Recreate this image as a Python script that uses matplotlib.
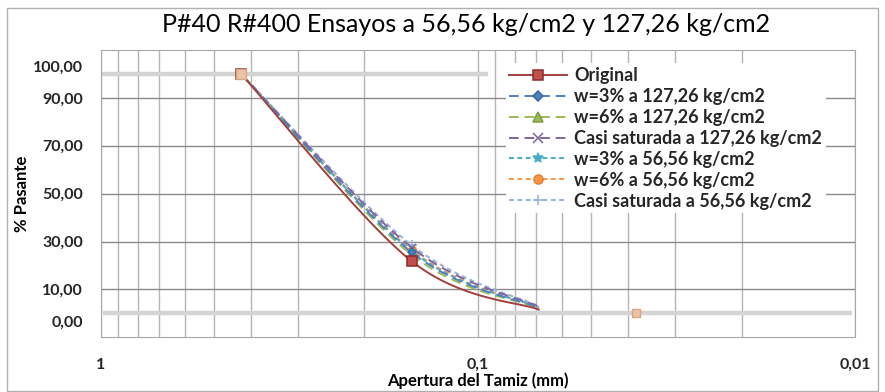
import matplotlib
matplotlib.use("Agg")
import matplotlib.pyplot as plt
import numpy as np
from matplotlib.ticker import NullFormatter

plt.rcParams['font.family'] = ['Lato', 'DejaVu Sans']

# tamices (mm) y % pasante por serie
sizes = [0.425, 0.15, 0.069]
original = [100.0, 21.8, 1.6]
w3_127 = [100.0, 25.5, 2.4]
w6_127 = [100.0, 24.5, 2.2]
casi_127 = [100.0, 27.5, 2.8]
w3_56 = [100.0, 26.0, 2.5]
w6_56 = [100.0, 26.5, 2.4]
casi_56 = [100.0, 28.5, 3.0]

# punto suelto cerca de #400
extra_x = [0.038]
extra_y = [0.0]

# barras grises horizontales
bar_y = [100.0, 0.0]
bar_x0 = [1.0, 0.985]
bar_x1 = [0.094, 0.0102]

series = [
    ("Original", original, '#A3403D', '-', 's', '#C0504D', '#8E2B29', 6.5),
    ("w=3% a 127,26 kg/cm2", w3_127, '#4F81BD', (0, (5, 3)), 'D', '#4F81BD', '#3A6AA4', 4.5),
    ("w=6% a 127,26 kg/cm2", w6_127, '#9BBB59', (0, (5, 3)), '^', '#9BBB59', '#7E9C40', 5.5),
    ("Casi saturada a 127,26 kg/cm2", casi_127, '#8064A2', (0, (5, 3)), 'x', '#8064A2', '#8064A2', 5.5),
    ("w=3% a 56,56 kg/cm2", w3_56, '#4BACC6', (0, (2.5, 1.8)), '*', '#4BACC6', '#4BACC6', 6.5),
    ("w=6% a 56,56 kg/cm2", w6_56, '#F79646', (0, (2.5, 1.8)), 'o', '#F79646', '#E07F30', 5.5),
    ("Casi saturada a 56,56 kg/cm2", casi_56, '#95B3D7', (0, (2.5, 1.8)), '+', '#95B3D7', '#95B3D7', 6.5),
]


def smooth(xs, ys, n=40):
    # curva suavizada tipo Excel (Catmull-Rom en log x)
    lx = np.log10(xs)
    p = np.column_stack([lx, ys])
    p = np.vstack([p[0], p, p[-1]])
    out = []
    t = np.linspace(0, 1, n)
    for i in range(1, len(p) - 2):
        p0, p1, p2, p3 = p[i - 1], p[i], p[i + 1], p[i + 2]
        seg = 0.5 * ((2 * p1)[None, :] + (-p0 + p2)[None, :] * t[:, None]
                     + (2 * p0 - 5 * p1 + 4 * p2 - p3)[None, :] * (t ** 2)[:, None]
                     + (-p0 + 3 * p1 - 3 * p2 + p3)[None, :] * (t ** 3)[:, None])
        out.append(seg)
    out = np.vstack(out)
    return 10 ** out[:, 0], out[:, 1]


fig = plt.figure(figsize=(8.85, 3.92), dpi=100)
ax = fig.add_axes([0.1141, 0.1395, 0.852, 0.733])

for y, a, b in zip(bar_y, bar_x0, bar_x1):
    ax.plot([a, b], [y, y], color='#d4d4d4', lw=3.2, solid_capstyle='butt', zorder=2)

for name, vals, lc, ls, mk, mfc, mec, ms in reversed(series):
    sx, sy = smooth(sizes, vals)
    ax.plot(sx, sy, color=lc, ls=ls, lw=1.4, zorder=3)
ax.plot(extra_x, extra_y, ls='none', marker='s', ms=5.5, mfc='#EBC3A5', mec='#D9A47E', zorder=4)

for name, vals, lc, ls, mk, mfc, mec, ms in reversed(series):
    ax.plot(sizes[:2], vals[:2], ls='none', marker=mk, ms=ms, mfc=mfc, mec=mec, mew=1.1, zorder=4)
# el primer punto se ve color durazno en el original
ax.plot(sizes[:1], original[:1], ls='none', marker='s', ms=7, mfc='#EBC3A5', mec='#D9A47E', zorder=5)

handles = []
for name, vals, lc, ls, mk, mfc, mec, ms in series:
    h, = ax.plot([], [], color=lc, ls=ls, lw=1.4, marker=mk, ms=ms + 1, mfc=mfc, mec=mec,
                 mew=1.1, label=name)
    handles.append(h)

ax.set_xscale('log')
ax.set_xlim(1, 0.01)
ax.set_ylim(-10, 110)
ax.set_xticks([1, 0.1, 0.01], labels=['1', '0,1', '0,01'])
ax.xaxis.set_minor_formatter(NullFormatter())
ax.set_yticks([10, 30, 50, 70, 90], labels=['10,00', '30,00', '50,00', '70,00', '90,00'])
ax.set_yticks([-3.3, 103.3], labels=['0,00', '100,00'], minor=True)

ax.grid(True, axis='y', which='major', color='#8a8a8a', lw=1.0)
ax.grid(True, axis='x', which='both', color='#b5b5b5', lw=1.0)
ax.set_axisbelow(True)
ax.tick_params(axis='both', which='both', length=0)
ax.tick_params(axis='x', which='both', pad=15, labelsize=11.5)
ax.tick_params(axis='y', which='both', pad=13, labelsize=11.5)
for lab in ax.get_xticklabels() + ax.get_yticklabels() + ax.get_yticklabels(minor=True):
    lab.set_fontweight('bold')
    lab.set_color('#262626')
for s in ax.spines.values():
    s.set_color('#a8a8a8')

ax.set_xlabel('Apertura del Tamiz (mm)', fontsize=12, fontweight='bold', labelpad=0)
ax.set_ylabel('% Pasante', fontsize=12, fontweight='bold', labelpad=2)
fig.text(0.527, 0.938, 'P#40 R#400 Ensayos a 56,56 kg/cm2 y 127,26 kg/cm2',
         ha='center', va='center', fontsize=18)

leg = ax.legend(handles=handles, loc='upper left', bbox_to_anchor=(0.525, 0.985),
                frameon=True, fontsize=13, handlelength=3.2, labelspacing=0.22,
                handletextpad=0.4, borderpad=0.2)
leg.get_frame().set_edgecolor('none')
leg.get_frame().set_facecolor('white')
leg.get_frame().set_alpha(1)
for t in leg.get_texts():
    t.set_fontweight('bold')
    t.set_color('#262626')

# marco exterior del grafico
fig.patches.append(plt.Rectangle((0.008, 0.003), 0.984, 0.976, transform=fig.transFigure,
                                 fill=False, ec='#b0b0b0', lw=1.0))

fig.savefig('out.png', dpi=100)
